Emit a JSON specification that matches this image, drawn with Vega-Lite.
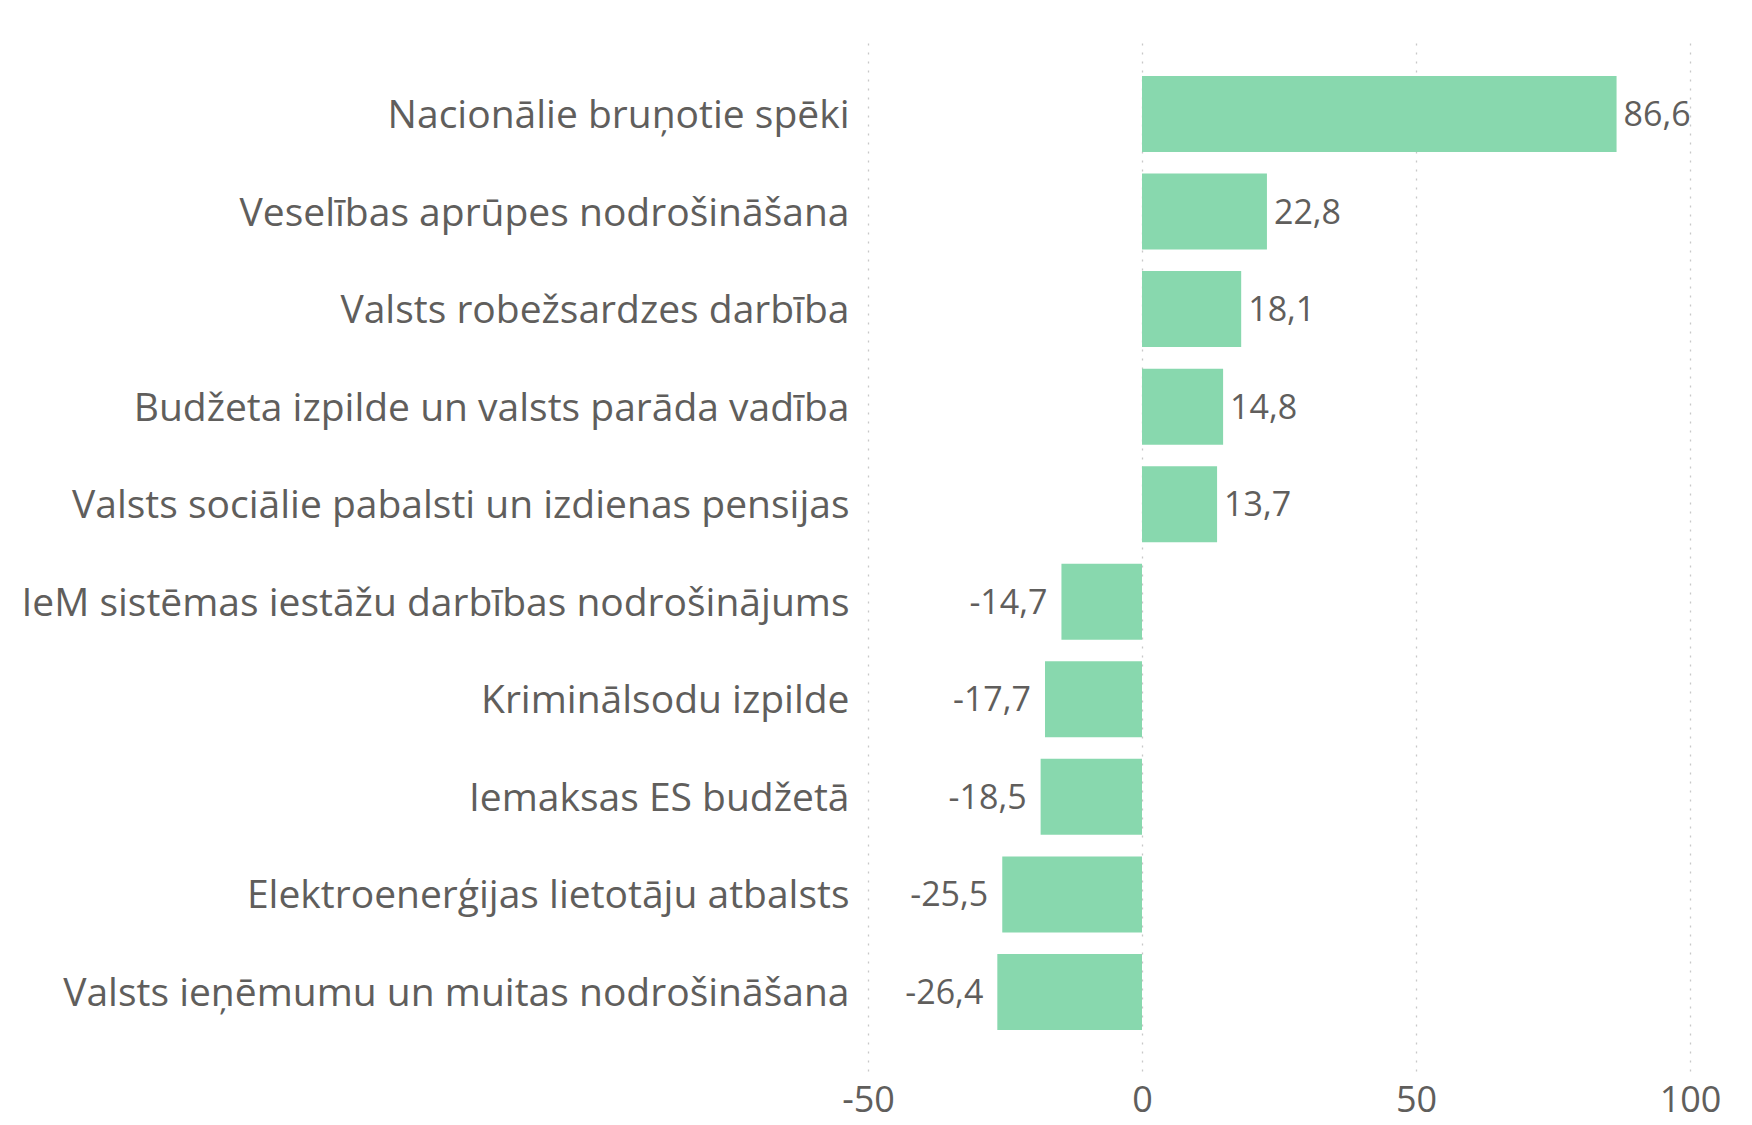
{
  "$schema": "https://vega.github.io/schema/vega-lite/v6.json",
  "autosize": "none",
  "width": 822,
  "height": 1032,
  "padding": {"left": 868, "top": 39, "right": 62, "bottom": 54},
  "background": "white",
  "config": {
    "locale": {"number": {"decimal": ",", "thousands": " ", "grouping": [3], "currency": ["", ""], "minus": "-"}},
    "view": {"stroke": null},
    "font": "Open Sans"
  },
  "data": {
    "values": [
      {"kategorija": "Nacionālie bruņotie spēki", "vertiba": 86.6},
      {"kategorija": "Veselības aprūpes nodrošināšana", "vertiba": 22.8},
      {"kategorija": "Valsts robežsardzes darbība", "vertiba": 18.1},
      {"kategorija": "Budžeta izpilde un valsts parāda vadība", "vertiba": 14.8},
      {"kategorija": "Valsts sociālie pabalsti un izdienas pensijas", "vertiba": 13.7},
      {"kategorija": "IeM sistēmas iestāžu darbības nodrošinājums", "vertiba": -14.7},
      {"kategorija": "Kriminālsodu izpilde", "vertiba": -17.7},
      {"kategorija": "Iemaksas ES budžetā", "vertiba": -18.5},
      {"kategorija": "Elektroenerģijas lietotāju atbalsts", "vertiba": -25.5},
      {"kategorija": "Valsts ieņēmumu un muitas nodrošināšana", "vertiba": -26.4}
    ]
  },
  "encoding": {
    "y": {
      "field": "kategorija",
      "type": "nominal",
      "sort": [
        "Nacionālie bruņotie spēki",
        "Veselības aprūpes nodrošināšana",
        "Valsts robežsardzes darbība",
        "Budžeta izpilde un valsts parāda vadība",
        "Valsts sociālie pabalsti un izdienas pensijas",
        "IeM sistēmas iestāžu darbības nodrošinājums",
        "Kriminālsodu izpilde",
        "Iemaksas ES budžetā",
        "Elektroenerģijas lietotāju atbalsts",
        "Valsts ieņēmumu un muitas nodrošināšana"
      ],
      "scale": {"paddingInner": 0.221, "paddingOuter": 0.4, "align": 0.474},
      "axis": {
        "title": null,
        "domain": false,
        "ticks": false,
        "labelFontSize": 39,
        "labelColor": "#605e5c",
        "labelPadding": 19,
        "labelOffset": 2,
        "labelLimit": 1000,
        "grid": false
      }
    },
    "x": {
      "field": "vertiba",
      "type": "quantitative",
      "scale": {"domain": [-50, 100], "nice": false, "zero": false},
      "axis": {
        "title": null,
        "values": [-50, 0, 50, 100],
        "domain": false,
        "ticks": false,
        "labelFontSize": 36,
        "labelColor": "#605e5c",
        "labelPadding": 12,
        "labelFlush": false,
        "grid": true,
        "gridColor": "#c8c8c8",
        "gridDash": [2, 7],
        "gridWidth": 1.3,
        "format": "d"
      }
    }
  },
  "layer": [
    {"mark": {"type": "bar", "color": "#88d8ae"}},
    {
      "transform": [{"filter": "datum.vertiba >= 0"}],
      "mark": {"type": "text", "align": "left", "baseline": "middle", "dx": 7, "dy": 2, "fontSize": 34, "color": "#605e5c"},
      "encoding": {"text": {"field": "vertiba", "type": "quantitative", "format": ".1f"}}
    },
    {
      "transform": [{"filter": "datum.vertiba < 0"}],
      "mark": {"type": "text", "align": "right", "baseline": "middle", "dx": -14, "dy": 2, "fontSize": 34, "color": "#605e5c"},
      "encoding": {"text": {"field": "vertiba", "type": "quantitative", "format": ".1f"}}
    }
  ]
}
